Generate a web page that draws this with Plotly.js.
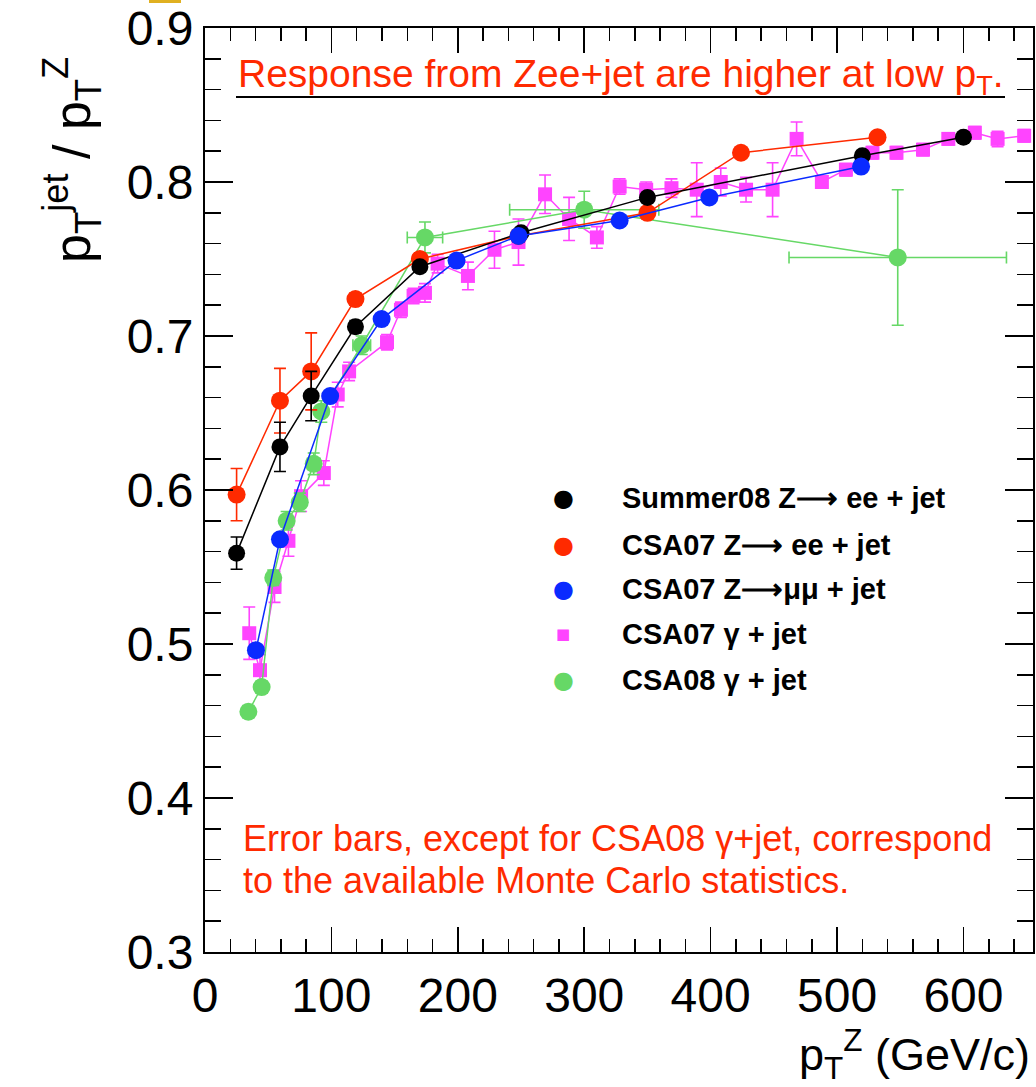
<!DOCTYPE html>
<html>
<head>
<meta charset="utf-8">
<script src="https://cdn.plot.ly/plotly-3.0.1.min.js"></script>
<style>html,body{margin:0;padding:0;background:#fff;}#chart{width:1036px;height:1087px;}</style>
</head>
<body>
<div id="chart"></div>
<script>
// ---- data ----
const seriesNames = ["Summer08 Z\u27f6 ee + jet", "CSA07 Z\u27f6 ee + jet", "CSA07 Z\u27f6\u03bc\u03bc + jet", "CSA07 \u03b3 + jet", "CSA08 \u03b3 + jet"];

const summer08X = [25, 59.3, 84, 119, 170, 250, 350, 520, 600];
const summer08Y = [0.559, 0.628, 0.661, 0.706, 0.745, 0.767, 0.790, 0.817, 0.829];
const summer08Err = [0.0105, 0.016, 0.016, 0.004, 0.003, 0.003, 0.003, 0.003, 0.003];

const csa07eeX = [25, 59.3, 84, 119, 170, 248, 350, 424, 532];
const csa07eeY = [0.597, 0.658, 0.677, 0.724, 0.750, 0.765, 0.780, 0.819, 0.829];
const csa07eeErr = [0.017, 0.021, 0.025, 0.004, 0.004, 0.003, 0.003, 0.003, 0.003];

const csa07mmX = [40.3, 59.3, 99, 139.7, 199, 248, 328, 399, 519];
const csa07mmY = [0.496, 0.568, 0.661, 0.711, 0.749, 0.765, 0.775, 0.790, 0.810];

const csa07gX = [35, 43.5, 55, 66, 76, 94, 105, 114, 144, 155, 165, 174, 184, 208, 229, 248, 269, 288, 310, 328, 349, 369, 389, 408, 428, 449, 468, 488, 507, 528, 547, 568, 588, 609, 627, 648];
const csa07gY = [0.507, 0.483, 0.537, 0.567, 0.596, 0.611, 0.662, 0.677, 0.696, 0.717, 0.726, 0.728, 0.747, 0.739, 0.756, 0.761, 0.792, 0.776, 0.764, 0.797, 0.795, 0.796, 0.795, 0.800, 0.795, 0.795, 0.828, 0.800, 0.808, 0.819, 0.819, 0.821, 0.828, 0.832, 0.828, 0.830];
const csa07gErr = [0.017, 0.010, 0.010, 0.010, 0.010, 0.008, 0.008, 0.006, 0.005, 0.005, 0.005, 0.006, 0.006, 0.009, 0.012, 0.015, 0.0125, 0.014, 0.007, 0.005, 0.005, 0.006, 0.0175, 0.009, 0.008, 0.0175, 0.011, 0.004, 0.004, 0.004, 0.004, 0.004, 0.004, 0.004, 0.005, 0.004];

const csa08gX = [34.3, 44.8, 54, 64.6, 75, 86, 92, 124, 174, 300, 548];
const csa08gY = [0.456, 0.472, 0.543, 0.580, 0.592, 0.617, 0.651, 0.694, 0.764, 0.782, 0.751];
const csa08gErrY = [0.004, 0.004, 0.005, 0.006, 0.006, 0.007, 0.007, 0.006, 0.010, 0.012, 0.044];
const csa08gErrX = [0, 0, 2, 3, 3, 5, 4, 7, 14, 59, 86];

// ---- styles ----
const colBlack = "#000000", colRed = "#ff2a00", colBlue = "#0a2aff", colMag = "#ff44ff", colGreen = "#66d866";
const FONT = "Liberation Sans, Arial, Helvetica, sans-serif";

// plot area in pixels
const L = 205, R = 1033, T = 28, B = 952;
function px(x) { return (x - L) / (R - L); }
function py(y) { return (B - y) / (B - T); }

function errY(arr, color) { return {type: "data", array: arr, visible: true, color: color, thickness: 1.6, width: 6}; }

const traces = [
  {x: csa07gX, y: csa07gY, name: seriesNames[3], mode: "lines+markers", type: "scatter",
   line: {color: colMag, width: 1.5}, marker: {color: colMag, symbol: "square", size: 14},
   error_y: errY(csa07gErr, colMag)},
  {x: csa08gX, y: csa08gY, name: seriesNames[4], mode: "lines+markers", type: "scatter",
   line: {color: colGreen, width: 1.5}, marker: {color: colGreen, symbol: "circle", size: 18},
   error_y: errY(csa08gErrY, colGreen),
   error_x: {type: "data", array: csa08gErrX, visible: true, color: colGreen, thickness: 1.6, width: 6}},
  {x: csa07eeX, y: csa07eeY, name: seriesNames[1], mode: "lines+markers", type: "scatter",
   line: {color: colRed, width: 1.5}, marker: {color: colRed, symbol: "circle", size: 18},
   error_y: errY(csa07eeErr, colRed)},
  {x: summer08X, y: summer08Y, name: seriesNames[0], mode: "lines+markers", type: "scatter",
   line: {color: colBlack, width: 1.5}, marker: {color: colBlack, symbol: "circle", size: 17},
   error_y: errY(summer08Err, colBlack)},
  {x: csa07mmX, y: csa07mmY, name: seriesNames[2], mode: "lines+markers", type: "scatter",
   line: {color: colBlue, width: 1.5}, marker: {color: colBlue, symbol: "circle", size: 18}}
];

const legendColors = [colBlack, colRed, colBlue, colMag, colGreen];
const legendRowsPx = [498, 545, 589, 634, 680];
const annotations = [];
for (let i = 0; i < seriesNames.length; i++) {
  annotations.push({xref: "paper", yref: "paper", x: px(563), y: py(legendRowsPx[i]), xanchor: "center", yanchor: "middle",
    text: i === 3 ? "\u25a0" : "\u25cf", showarrow: false, font: {family: "DejaVu Sans", size: i === 3 ? 15 : 24, color: legendColors[i]}});
  annotations.push({xref: "paper", yref: "paper", x: px(620), y: py(legendRowsPx[i]), xanchor: "left", yanchor: "middle",
    text: "<b>" + seriesNames[i] + "</b>", showarrow: false, font: {family: FONT, size: 29, color: "#000"}});
}
annotations.push({xref: "paper", yref: "paper", x: px(236), y: py(76), xanchor: "left", yanchor: "middle",
  text: "Response from Zee+jet are higher at low p<sub>T</sub>.", showarrow: false, font: {family: FONT, size: 39, color: colRed}});
annotations.push({xref: "paper", yref: "paper", x: px(241), y: py(838), xanchor: "left", yanchor: "middle",
  text: "Error bars, except for CSA08 \u03b3+jet, correspond", showarrow: false,
  font: {family: FONT, size: 36, color: colRed}});
annotations.push({xref: "paper", yref: "paper", x: px(241), y: py(880), xanchor: "left", yanchor: "middle",
  text: "to the available Monte Carlo statistics.", showarrow: false,
  font: {family: FONT, size: 36, color: colRed}});
annotations.push({xref: "paper", yref: "paper", x: px(72), y: py(160), xanchor: "center", yanchor: "middle", textangle: -90,
  text: "p<sub>T</sub><sup>jet</sup> / p<sub>T</sub><sup>Z</sup>", showarrow: false, font: {family: FONT, size: 52, color: "#000"}});
annotations.push({xref: "paper", yref: "paper", x: px(1032), y: py(1054), xanchor: "right", yanchor: "middle",
  text: "p<sub>T</sub><sup>Z</sup> (GeV/c)", showarrow: false, font: {family: FONT, size: 45, color: "#000"}});

const layout = {
  width: 1036, height: 1087,
  margin: {l: L, r: 1036 - R, t: T, b: 1087 - B, pad: 0},
  paper_bgcolor: "#fff", plot_bgcolor: "#fff",
  showlegend: false,
  xaxis: {range: [0, 655], showgrid: false, zeroline: false, showline: true, linecolor: "#000", linewidth: 2,
    mirror: "ticks", ticks: "inside", ticklen: 25, tickwidth: 1.5, tickcolor: "#000", dtick: 100, tick0: 0,
    minor: {ticks: "inside", ticklen: 13, tickwidth: 1.5, tickcolor: "#000", dtick: 20, showgrid: false},
    tickfont: {family: FONT, size: 48, color: "#000"}},
  yaxis: {range: [0.3, 0.9], showgrid: false, zeroline: false, showline: true, linecolor: "#000", linewidth: 2,
    mirror: "ticks", ticks: "inside", ticklen: 28, tickwidth: 1.5, tickcolor: "#000", dtick: 0.1, tick0: 0.3, tickformat: ".1f",
    minor: {ticks: "inside", ticklen: 16, tickwidth: 1.5, tickcolor: "#000", dtick: 0.02, showgrid: false},
    tickfont: {family: FONT, size: 48, color: "#000"}},
  shapes: [
    {type: "line", xref: "paper", yref: "paper", x0: px(236), x1: px(1005), y0: py(97), y1: py(97), line: {color: "#000", width: 2}},
    {type: "rect", xref: "paper", yref: "paper", x0: px(149), x1: px(181), y0: py(3), y1: py(0), fillcolor: "#e0b020", line: {width: 0}}
  ],
  annotations: annotations
};

Plotly.newPlot("chart", traces, layout, {displayModeBar: false, staticPlot: true});
</script>
</body>
</html>
